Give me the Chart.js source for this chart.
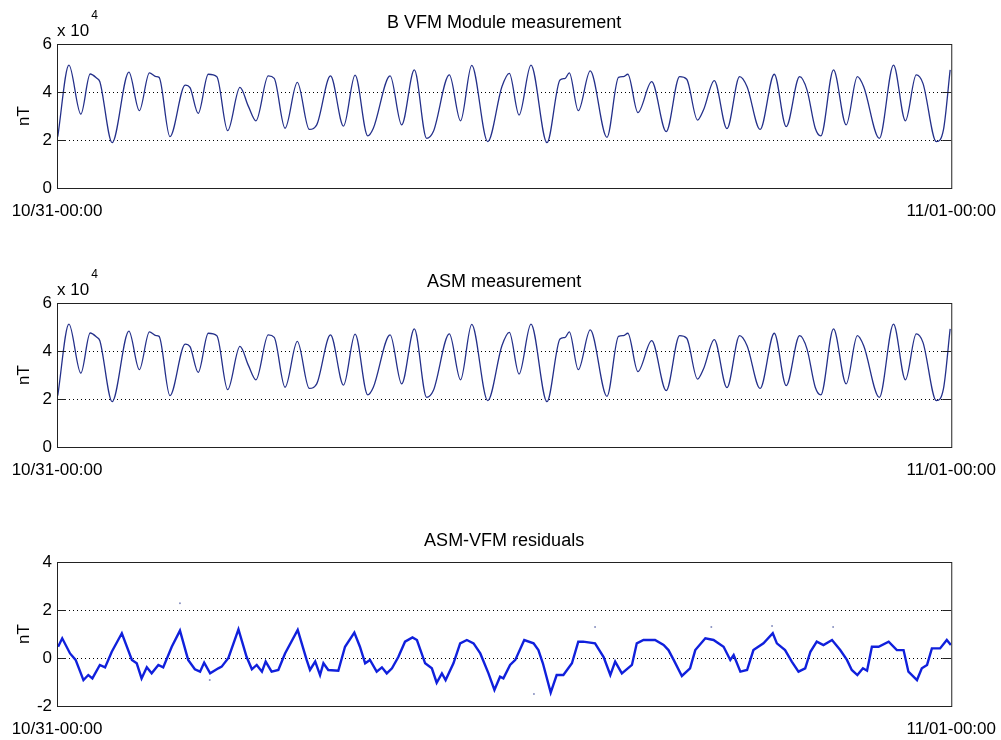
<!DOCTYPE html>
<html>
<head>
<meta charset="utf-8">
<script src="https://cdn.jsdelivr.net/npm/chart.js@4"></script>
<style>
  html, body { margin: 0; padding: 0; background: #fff; overflow: hidden; }
  .panel { position: absolute; left: 0; width: 1001px; height: 259px; }
</style>
</head>
<body>
<div class="panel" style="top:0"><canvas id="vfmChart"></canvas></div>
<div class="panel" style="top:259px"><canvas id="asmChart"></canvas></div>
<div class="panel" style="top:518px"><canvas id="residChart"></canvas></div>
<script>
// x ticks: one full day
const tickHours = [0, 24];
const xTickLabels = ["10/31-00:00", "11/01-00:00"];
const panelTitles = ["B VFM Module measurement", "ASM measurement", "ASM-VFM residuals"];

// field module (nT), read at the turning points of the curve
const fieldHours = [0.02,0.32,0.64,0.89,1.07,1.15,1.48,1.93,2.21,2.48,
    2.66,2.74,3.03,3.44,3.57,3.79,4.06,4.29,4.58,4.91,
    5.14,5.34,5.67,5.83,6.12,6.45,6.77,6.97,7.34,7.69,
    8.00,8.34,8.49,8.94,9.25,9.59,9.92,10.10,10.53,10.83,
    11.13,11.56,11.94,12.14,12.40,12.72,13.15,13.50,13.64,13.75,
    13.99,14.31,14.76,15.07,15.20,15.32,15.59,15.96,16.35,16.71,
    16.90,17.19,17.35,17.64,17.98,18.32,18.52,18.87,19.25,19.57,
    19.93,20.13,20.35,20.50,20.84,21.18,21.48,21.65,22.07,22.45,
    22.77,23.06,23.24,23.60,23.79,23.97];
const vfmField = [21400,51200,30800,47500,45700,44300,18900,48300,32200,48000,
    46400,46100,21400,42900,41800,31100,47400,46400,23900,41900,
    33900,28000,46700,45700,24900,44000,24400,26300,46700,25800,
    47000,21700,24900,46700,26300,49200,20700,23500,47100,28000,
    51100,19300,42200,47800,30400,51200,18900,45000,45700,48000,
    32200,48800,21100,46100,46400,47400,31400,44300,23500,46400,
    45300,28300,32500,44700,24700,46400,42200,24400,47400,25600,
    46400,40800,24900,21700,49200,26300,46400,42200,20700,51200,
    28000,47100,43600,19300,24200,49200];
// ASM looks the same at this scale
const asmField = [21400,51200,30800,47500,45700,44300,18900,48300,32200,48000,
    46400,46100,21400,42900,41800,31100,47400,46400,23900,41900,
    33900,28000,46700,45700,24900,44000,24400,26300,46700,25800,
    47000,21700,24900,46700,26300,49200,20700,23500,47100,28000,
    51100,19300,42200,47800,30400,51200,18900,45000,45700,48000,
    32200,48800,21100,46100,46400,47400,31400,44300,23500,46400,
    45300,28300,32500,44700,24700,46400,42200,24400,47400,25600,
    46400,40800,24900,21700,49200,26300,46400,42200,20700,51200,
    28000,47100,43600,19300,24200,49200];

// residuals (nT)
const residHours = [0.03,0.14,0.35,0.50,0.71,0.84,0.95,1.15,1.29,1.47,
    1.74,2.01,2.14,2.27,2.41,2.54,2.72,2.85,3.08,3.30,
    3.52,3.70,3.84,3.95,4.11,4.33,4.42,4.60,4.87,5.09,
    5.23,5.36,5.50,5.60,5.76,5.94,6.12,6.46,6.70,6.79,
    6.93,7.06,7.15,7.28,7.55,7.73,7.98,8.13,8.27,8.40,
    8.58,8.72,8.85,8.99,9.16,9.34,9.54,9.66,9.88,10.06,
    10.19,10.33,10.43,10.64,10.82,11.00,11.18,11.36,11.58,11.74,
    11.89,11.98,12.16,12.30,12.54,12.79,12.92,13.04,13.25,13.41,
    13.59,13.82,13.99,14.12,14.44,14.67,14.85,14.98,15.16,15.43,
    15.56,15.74,16.05,16.28,16.41,16.55,16.77,16.99,17.13,17.40,
    17.62,17.89,18.07,18.16,18.34,18.52,18.69,18.96,19.21,19.32,
    19.54,19.72,19.90,20.08,20.22,20.39,20.57,20.80,21.02,21.20,
    21.33,21.48,21.63,21.74,21.87,22.05,22.32,22.54,22.72,22.85,
    23.08,23.21,23.35,23.48,23.70,23.88,23.99];
const residValues = [0.47,0.82,0.19,-0.08,-0.92,-0.71,-0.85,-0.29,-0.39,0.26,
    1.03,-0.08,-0.22,-0.85,-0.39,-0.64,-0.29,-0.39,0.47,1.14,
    -0.08,-0.47,-0.57,-0.19,-0.64,-0.43,-0.36,0.00,1.19,0.04,
    -0.47,-0.29,-0.57,-0.15,-0.57,-0.50,0.19,1.17,-0.08,-0.50,
    -0.15,-0.71,-0.22,-0.50,-0.53,0.47,1.06,0.47,-0.22,-0.08,
    -0.57,-0.39,-0.64,-0.43,0.04,0.68,0.86,0.75,-0.22,-0.43,
    -1.03,-0.64,-0.92,-0.22,0.61,0.75,0.61,0.19,-0.64,-1.33,
    -0.78,-0.85,-0.29,-0.08,0.75,0.61,0.33,-0.22,-1.44,-0.71,
    -0.71,-0.22,0.68,0.68,0.61,0.04,-0.71,-0.15,-0.64,-0.29,
    0.61,0.75,0.75,0.54,0.33,-0.08,-0.75,-0.43,0.33,0.82,
    0.75,0.47,-0.08,0.12,-0.57,-0.50,0.33,0.61,1.03,0.61,
    0.33,-0.15,-0.57,-0.43,0.26,0.68,0.54,0.75,0.33,-0.08,
    -0.50,-0.71,-0.43,-0.53,0.47,0.47,0.68,0.33,0.33,-0.57,
    -0.92,-0.43,-0.29,0.40,0.40,0.75,0.54];
// a few stray residual samples off the main trace
const strayHours = [3.30, 4.10, 12.80, 14.44, 17.56, 19.19, 20.83];
const strayValues = [2.28, -0.92, -1.50, 1.29, 1.29, 1.33, 1.29];

Chart.defaults.font.family = "'Liberation Sans', Arial, sans-serif";
Chart.defaults.color = "#000";

// box round the plot, inward ticks, and the "x 10^4" note
const framePlugin = {
    id: "frame",
    afterDraw(chart, args, opts) {
        const { ctx, chartArea: a } = chart;
        const y = chart.scales.y;
        ctx.save();
        ctx.strokeStyle = "#222";
        ctx.lineWidth = 1;
        ctx.strokeRect(a.left + 0.5, a.top + 0.5, a.right - a.left, a.bottom - a.top);
        y.ticks.forEach(t => {
            const py = Math.round(y.getPixelForValue(t.value)) + 0.5;
            ctx.beginPath();
            ctx.moveTo(a.left, py); ctx.lineTo(a.left + 9, py);
            ctx.moveTo(a.right - 9, py); ctx.lineTo(a.right, py);
            ctx.stroke();
        });
        if (opts.exponent) {
            ctx.fillStyle = "#000";
            ctx.textBaseline = "middle";
            ctx.font = "17px 'Liberation Sans', Arial, sans-serif";
            ctx.fillText("x 10", a.left, a.top - 13);
            const w = ctx.measureText("x 10").width;
            ctx.font = "12px 'Liberation Sans', Arial, sans-serif";
            ctx.fillText(opts.exponent, a.left + w + 2, a.top - 28);
        }
        ctx.restore();
    }
};

function makePanel(id, title, xs, ys, yMin, yMax, yStep, gridValues, exponent, lineOpts, extra) {
    const datasets = [Object.assign({
        data: xs.map((x, i) => ({ x: x, y: ys[i] })),
        pointRadius: 0,
        fill: false
    }, lineOpts)];
    if (extra) datasets.push(extra);
    return new Chart(document.getElementById(id), {
        type: "line",
        data: { datasets: datasets },
        options: {
            animation: false,
            responsive: true,
            maintainAspectRatio: false,
            devicePixelRatio: 1,
            layout: { padding: { left: 0, right: 47, top: 0, bottom: 0 } },
            plugins: {
                legend: { display: false },
                tooltip: { enabled: false },
                title: {
                    display: true,
                    text: title,
                    fullSize: false,
                    font: { size: 18, weight: "normal" },
                    padding: { top: 12, bottom: 10.4 }
                },
                frame: { exponent: exponent }
            },
            scales: {
                x: {
                    type: "linear",
                    min: 0,
                    max: 24,
                    afterBuildTicks: s => { s.ticks = tickHours.map(v => ({ value: v })); },
                    afterFit: s => { s.height = 71; },
                    ticks: {
                        autoSkip: false,
                        maxRotation: 0,
                        padding: 5,
                        font: { size: 17 },
                        callback: (v, i) => xTickLabels[i]
                    },
                    grid: { display: false },
                    border: { display: false }
                },
                y: {
                    min: yMin,
                    max: yMax,
                    afterFit: s => { s.width = 57; },
                    ticks: {
                        stepSize: yStep,
                        padding: 5,
                        font: { size: 17 },
                        callback: v => exponent ? String(v / 10000) : String(v)
                    },
                    title: {
                        display: true,
                        text: "nT",
                        font: { size: 17 },
                        padding: { top: 14, bottom: 0 }
                    },
                    grid: {
                        drawTicks: false,
                        lineWidth: 1,
                        color: c => gridValues.includes(c.tick.value) ? "#000" : "rgba(0,0,0,0)"
                    },
                    border: { display: false, dash: [1, 3] }
                }
            }
        },
        plugins: [framePlugin]
    });
}

const fieldLine = { borderColor: "#24308a", borderWidth: 1.3, cubicInterpolationMode: "monotone" };
makePanel("vfmChart", panelTitles[0], fieldHours, vfmField, 0, 60000, 20000, [20000, 40000], "4", fieldLine);
makePanel("asmChart", panelTitles[1], fieldHours, asmField, 0, 60000, 20000, [20000, 40000], "4", fieldLine);
makePanel("residChart", panelTitles[2], residHours, residValues, -2, 4, 2, [0, 2], null,
    { borderColor: "#1020dc", borderWidth: 2.4, tension: 0 },
    {
        data: strayHours.map((x, i) => ({ x: x, y: strayValues[i] })),
        showLine: false,
        pointRadius: 1,
        pointBorderWidth: 0,
        pointBackgroundColor: "#8890c0"
    });
</script>
</body>
</html>
